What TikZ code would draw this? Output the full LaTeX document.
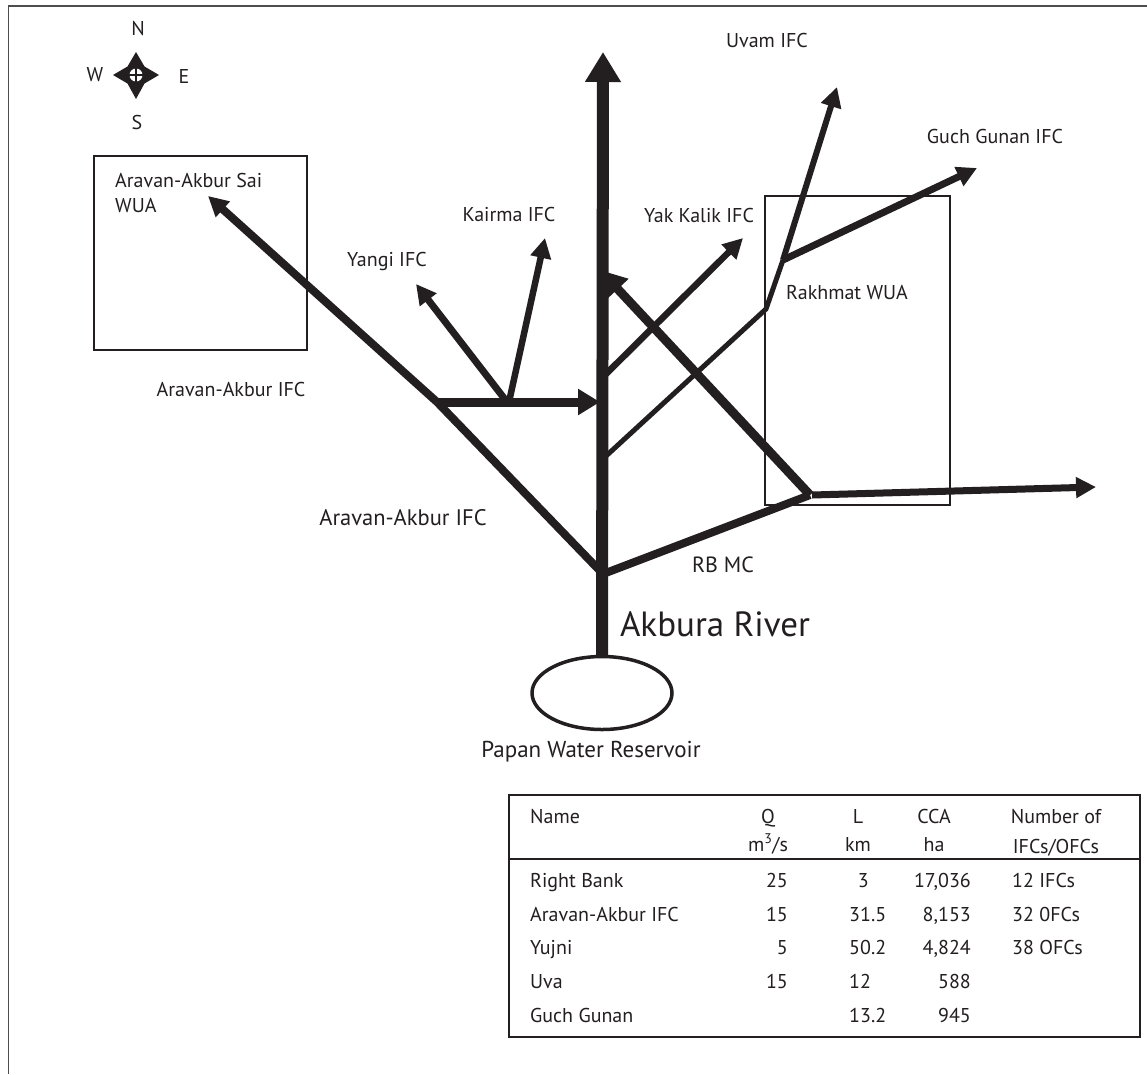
\documentclass[tikz,border=0pt]{standalone}
\usepackage{fontspec}
\setmainfont{PT Sans}
\usetikzlibrary{arrows.meta,shapes.geometric}
\definecolor{ink}{HTML}{231F20}
\tikzset{
  lab/.style={inner sep=0pt,text=ink,font=\fontsize{20}{24}\selectfont},
  cell/.style={lab,anchor=base},
  cellL/.style={lab,anchor=base west},
  cellR/.style={lab,anchor=base east},
  thinbox/.style={draw=ink,line width=1.5pt},
  canal/.style={draw=ink,line width=#1,line cap=butt,line join=miter},
  tipS/.style={-{Triangle[length=20pt,width=20pt,fill=ink]}},
  tipM/.style={-{Triangle[length=22pt,width=25pt,fill=ink]}},
  tipL/.style={-{Triangle[length=30pt,width=34pt,fill=ink]}},
}
\begin{document}
\begin{tikzpicture}[x=1pt,y=-1pt]
\useasboundingbox (0,0) rectangle (1147,1074);
\fill[white] (0,0) rectangle (1147,1074);
% outer frame (top and left only)
\draw[draw=ink!80,line width=1.8pt] (1147,6) -- (8.5,6) -- (8.5,1074);
% boxes
\draw[thinbox] (94,156) rectangle (307,350);
\draw[thinbox] (765,196) rectangle (950,505);
% coordinates
\coordinate (top) at (603,52);
\coordinate (fork) at (603,574);
\coordinate (aa) at (437,402);
\coordinate (aatip) at (208,196);
\coordinate (hjoin) at (600,402);
\coordinate (ya) at (507,402);
\coordinate (yatip) at (416,284);
\coordinate (ka) at (509,402);
\coordinate (katip) at (545,238);
\coordinate (yk) at (606,374);
\coordinate (yktip) at (743,238);
\coordinate (rk) at (606,456);
\coordinate (bend) at (766,309);
\coordinate (gj) at (783,260);
\coordinate (uvtip) at (837,87);
\coordinate (gutip) at (977,168);
\coordinate (rb) at (810,495);
\coordinate (backtip) at (600,270);
\coordinate (east) at (812,495);
\coordinate (easttip) at (1096,487);
% reservoir
\node[draw=ink,line width=3.5pt,ellipse,minimum width=140pt,minimum height=73pt,inner sep=0pt] (reservoir) at (602,693) {};
% canals
\draw[canal=12pt,tipL] (reservoir.north) -- (top);
\draw[canal=8pt] (fork) -- (aa);
\draw[canal=8pt,tipS] (aa) -- (aatip);
\draw[canal=9pt,tipM] (aa) -- (hjoin);
\draw[canal=7pt,tipS] (ya) -- (yatip);
\draw[canal=6.5pt,tipS] (ka) -- (katip);
\draw[canal=6.5pt,tipS] (yk) -- (yktip);
\draw[canal=5pt] (rk) -- (bend) -- (gj);
\draw[canal=6pt,tipS] (gj) -- (uvtip);
\draw[canal=7pt,tipS] (gj) -- (gutip);
\draw[canal=8pt] (fork) -- (rb);
\draw[canal=9pt,-{Triangle[length=26pt,width=28pt,fill=ink]}] (rb) -- (backtip);
\draw[canal=7pt,tipS] (east) -- (easttip);
% compass
\fill[ink] (136,52) -- (144.5,66.5) -- (159,75) -- (144.5,83.5) -- (136,99)
  -- (127.5,83.5) -- (113,75) -- (127.5,66.5) -- cycle;
\node[circle,fill=white,inner sep=0pt,minimum size=13pt] (hub) at (136,75) {};
\draw[ink,line width=1.3pt] (hub.north) -- (hub.south);
\draw[ink,line width=1.3pt] (hub.west) -- (hub.east);
\node[lab] (n) at (138,28) {N};
\node[lab] (w) at (95,75) {W};
\node[lab] (e) at (184,76) {E};
\node[lab] (s) at (137,122) {S};
% labels
\node[lab] (uvam) at (767,40) {Uvam IFC};
\node[lab] (guch) at (995,136) {Guch Gunan IFC};
\node[lab] (yak) at (699,215) {Yak Kalik IFC};
\node[lab] (kairma) at (509,214) {Kairma IFC};
\node[lab] (yangi) at (387,261) {Yangi IFC};
\node[lab] (rakh) at (847,293) {Rakhmat WUA};
\node[lab,anchor=base west] (sai1) at (115,187) {Aravan-Akbur Sai};
\node[lab,anchor=base west] (sai2) at (115,212) {WUA};
\node[lab] (aaifc1) at (231,389) {Aravan-Akbur IFC};
\node[lab,font=\fontsize{22.5}{26}\selectfont] (aaifc2) at (403,518) {Aravan-Akbur IFC};
\node[lab,font=\fontsize{22}{26}\selectfont] (rbmc) at (723,565) {RB MC};
\node[lab,font=\fontsize{35}{40}\selectfont] (akbura) at (715,624) {Akbura River};
\node[lab,font=\fontsize{23}{27}\selectfont] (papan) at (591,752) {Papan Water Reservoir};
% table
\draw[thinbox] (509,795) rectangle (1140,1037);
\draw[draw=ink,line width=1.2pt] (509,859) -- (1140,859);
\node[cellL] (h1) at (530,823) {Name};
\node[cell] (h2) at (768,823) {Q};
\node[cell] (h3) at (858,823) {L};
\node[cell] (h4) at (934,823) {CCA};
\node[cell] (h5) at (1056,823) {Number of};
\node[cell] (u2) at (768,851) {m\textsuperscript{3}/s};
\node[cell] (u3) at (858,851) {km};
\node[cell] (u4) at (934,851) {ha};
\node[cell] (u5) at (1056,853) {IFCs/OFCs};
\node[cellL] (a1) at (530,887) {Right Bank};
\node[cellR] (a2) at (788,887) {25};
\node[cellR] (a3) at (869,887) {3};
\node[cellR] (a4) at (971,887) {17,036};
\node[cellL] (a5) at (1012,887) {12 IFCs};
\node[cellL] (b1) at (530,921) {Aravan-Akbur IFC};
\node[cellR] (b2) at (788,921) {15};
\node[cellL] (b3) at (849,921) {31.5};
\node[cellR] (b4) at (971,921) {8,153};
\node[cellL] (b5) at (1012,921) {32 0FCs};
\node[cellL] (c1) at (530,954) {Yujni};
\node[cellR] (c2) at (788,954) {5};
\node[cellL] (c3) at (849,954) {50.2};
\node[cellR] (c4) at (971,954) {4,824};
\node[cellL] (c5) at (1012,954) {38 OFCs};
\node[cellL] (d1) at (530,988) {Uva};
\node[cellR] (d2) at (788,988) {15};
\node[cellL] (d3) at (849,988) {12};
\node[cellR] (d4) at (971,988) {588};
\node[cellL] (e1) at (530,1022) {Guch Gunan};
\node[cellL] (e3) at (849,1022) {13.2};
\node[cellR] (e4) at (971,1022) {945};
\end{tikzpicture}
\end{document}
